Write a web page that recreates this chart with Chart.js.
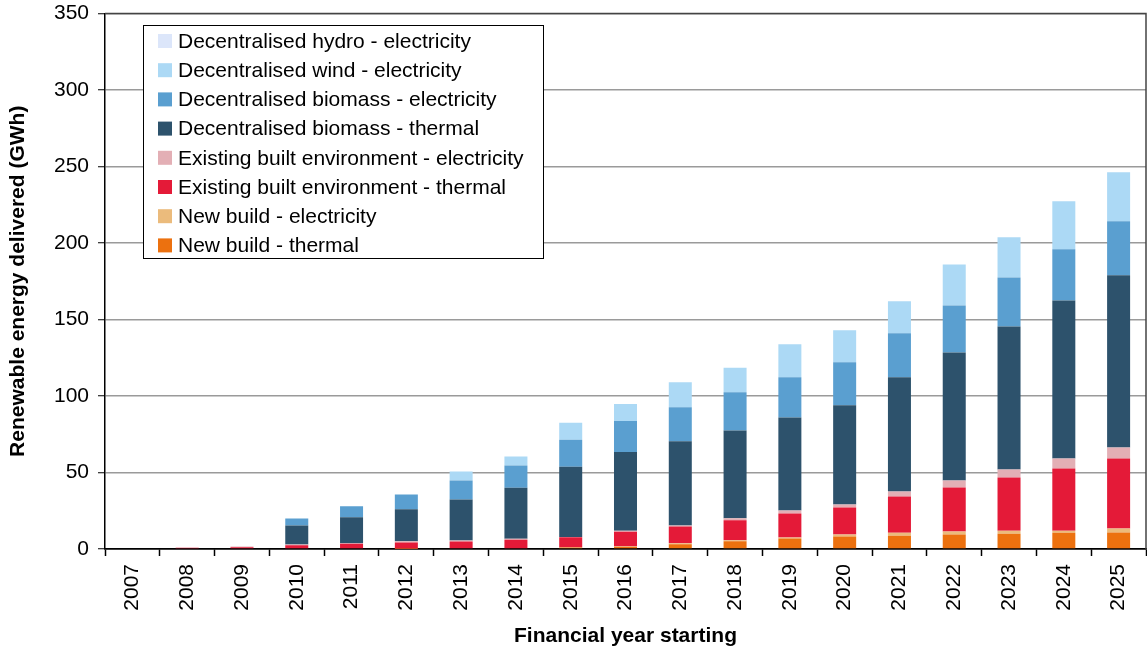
<!DOCTYPE html>
<html>
<head>
<meta charset="utf-8">
<script src="https://cdn.jsdelivr.net/npm/chart.js@4"></script>
<style>
html,body{margin:0;padding:0;background:#fff;}
#wrap{width:1147px;height:649px;position:relative;}
</style>
</head>
<body>
<div id="wrap"><canvas id="c" width="1147" height="649"></canvas></div>
<script>
const years = ['2007','2008','2009','2010','2011','2012','2013','2014','2015','2016','2017','2018','2019','2020','2021','2022','2023','2024','2025'];
const yTicks = [0,50,100,150,200,250,300,350];

const newBuildThermal = [0,0,0,0,0,0.2,0.5,0.5,0.9,1.5,3.1,5.0,6.8,8.1,8.7,9.4,10.0,10.7,10.8];
const newBuildElec    = [0,0,0,0,0,0,0,0,0.2,0.3,0.7,0.7,0.7,1.3,2.0,2.0,2.0,1.3,2.6];
const existingThermal = [0,0.8,1.2,2.4,3.5,4.1,4.4,5.5,6.5,9.4,10.9,13.1,15.7,17.7,23.6,28.8,34.7,40.6,45.8];
const existingElec    = [0,0,0.5,0.6,0.3,0.7,0.7,0.7,0.3,0.7,0.7,1.3,2.0,2.0,3.3,4.6,5.2,6.5,7.2];
const biomassThermal  = [0,0,0,12.4,17.0,20.9,26.8,33.4,45.8,51.5,55.0,57.4,60.8,64.8,74.6,83.7,93.5,103.4,112.5];
const biomassElec     = [0,0,0,4.6,7.2,9.8,12.4,14.4,17.7,20.3,22.2,24.9,26.2,28.1,28.8,30.7,32.1,33.4,35.3];
const windElec        = [0,0,0,0,0,0,5.9,5.9,11.1,11.1,16.4,16.0,21.6,20.9,20.9,26.8,26.2,31.4,32.1];
const hydroElec       = [0,0,0,0,0,0,0,0,0,0,0,0,0,0,0,0,0,0,0];

const FONT = '"Liberation Sans", Arial, sans-serif';

function ds(label, data, color){
  return {label, data, backgroundColor: color, borderWidth: 0,
          barPercentage: 0.42, categoryPercentage: 1.0, stack: 's'};
}

const legendPlugin = {
  id: 'insideLegend',
  afterDraw(chart){
    const ctx = chart.ctx;
    const x0 = 143.5, y0 = 25.5, w = 400, h = 233;
    ctx.save();
    ctx.fillStyle = '#fff';
    ctx.fillRect(x0, y0, w, h);
    ctx.strokeStyle = '#000';
    ctx.lineWidth = 1;
    ctx.strokeRect(x0, y0, w, h);
    const items = chart.data.datasets.slice().reverse();
    ctx.font = '21px ' + FONT;
    ctx.textBaseline = 'middle';
    ctx.textAlign = 'left';
    items.forEach((d, i) => {
      const cy = 41 + i * 29.2;
      ctx.fillStyle = d.backgroundColor;
      ctx.fillRect(158, cy - 7, 14, 14);
      ctx.fillStyle = '#000';
      ctx.fillText(d.label, 178, cy + 1);
    });
    ctx.restore();
  }
};

const borderPlugin = {
  id: 'plotBorder',
  afterDatasetsDraw(chart){
    const a = chart.chartArea, ctx = chart.ctx;
    ctx.save();
    ctx.strokeStyle = '#444';
    ctx.lineWidth = 1.5;
    ctx.beginPath();
    ctx.moveTo(a.left, a.top);
    ctx.lineTo(a.right, a.top);
    ctx.lineTo(a.right, a.bottom);
    ctx.stroke();
    ctx.restore();
  }
};

new Chart(document.getElementById('c'), {
  type: 'bar',
  data: {
    labels: years,
    datasets: [
      ds('New build - thermal', newBuildThermal, '#ec710f'),
      ds('New build - electricity', newBuildElec, '#ebbb7c'),
      ds('Existing built environment - thermal', existingThermal, '#e41a38'),
      ds('Existing built environment - electricity', existingElec, '#e3afb5'),
      ds('Decentralised biomass - thermal', biomassThermal, '#2d526c'),
      ds('Decentralised biomass - electricity', biomassElec, '#5a9fd0'),
      ds('Decentralised wind - electricity', windElec, '#acd9f5'),
      ds('Decentralised hydro - electricity', hydroElec, '#dce6fa')
    ]
  },
  options: {
    responsive: false,
    animation: false,
    layout: {padding: {top: 13.5, right: 1, left: 0, bottom: 0}},
    plugins: {legend: {display: false}, tooltip: {enabled: false}},
    scales: {
      x: {
        stacked: true,
        grid: {drawOnChartArea: false, drawTicks: true, tickLength: 7, tickColor: '#000', tickWidth: 1.5, offset: true},
        border: {color: '#000', width: 1.5},
        ticks: {color: '#000', font: {family: FONT, size: 21}, maxRotation: 90, minRotation: 90, padding: 8, autoSkip: false},
        title: {display: true, text: 'Financial year starting', color: '#000', font: {family: FONT, size: 21, weight: 'bold'}, padding: {top: 7, bottom: 0}},
        afterFit(s){ s.height = 100; s.paddingLeft = 0; s.paddingRight = 0; }
      },
      y: {
        stacked: true,
        min: 0, max: 350,
        afterBuildTicks(s){ s.ticks = yTicks.map(v => ({value: v})); },
        grid: {color: (c) => c.tick && c.tick.value === 0 ? '#000' : '#9a9a9a', lineWidth: 1.5, tickLength: 7, tickColor: '#000', tickWidth: 1},
        border: {color: '#000', width: 1.5},
        ticks: {color: '#000', font: {family: FONT, size: 21}, padding: 9},
        title: {display: true, text: 'Renewable energy delivered (GWh)', color: '#000', font: {family: FONT, size: 21, weight: 'bold'}, padding: {top: 6, bottom: 4}},
        afterFit(s){ s.width = 105; s.paddingTop = 0; s.paddingBottom = 0; }
      }
    }
  },
  plugins: [borderPlugin, legendPlugin]
});
</script>
</body>
</html>
